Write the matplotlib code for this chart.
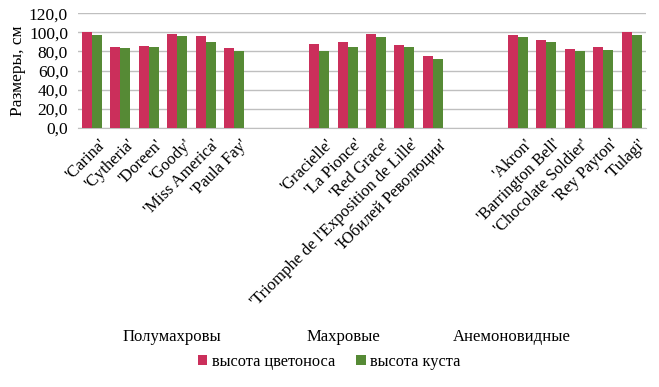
import matplotlib.pyplot as plt
import matplotlib.transforms as mtransforms
import numpy as np

plt.rcParams['font.family'] = ['Liberation Serif', 'DejaVu Serif']

# Полумахровые, махровые, анемоновидные сорта
semi_names = ["'Carina'", "'Cytheria'", "'Doreen'", "'Goody'", "'Miss America'", "'Paula Fay'"]
semi_peduncle = [100.0, 84.6, 85.3, 98.6, 96.0, 83.2]
semi_bush = [97.2, 83.2, 84.6, 96.0, 90.0, 80.4]

double_names = ["'Gracielle'", "'La Pionce'", "'Red Grace'",
                "'Triomphe de l'Exposition de Lille'", "'Юбилей Революции'"]
double_peduncle = [88.0, 89.5, 98.3, 86.7, 75.2]
double_bush = [80.0, 85.0, 95.5, 85.0, 72.4]

anem_names = ["'Akron'", "'Barrington Bell'", "'Chocolate Soldier'", "'Rey Payton'", "'Tulagi'"]
anem_peduncle = [97.2, 92.0, 82.2, 85.0, 100.3]
anem_bush = [95.1, 89.9, 80.0, 81.5, 96.9]

group_titles = ['Полумахровы', 'Махровые', 'Анемоновидные']

gap = 2
labels = semi_names + [''] * gap + double_names + [''] * gap + anem_names
peduncle = semi_peduncle + [np.nan] * gap + double_peduncle + [np.nan] * gap + anem_peduncle
bush = semi_bush + [np.nan] * gap + double_bush + [np.nan] * gap + anem_bush

x = np.arange(len(labels))
w = 0.35

fig = plt.figure(figsize=(6.59, 3.87), dpi=100)
ax = fig.add_axes([0.118, 0.669, 0.862, 0.297])

ax.bar(x - w/2, peduncle, w, color='#CB2F5B', label='высота цветоноса', zorder=3)
ax.bar(x + w/2, bush, w, color='#568A35', label='высота куста', zorder=3)

ax.set_xlim(-0.5, len(labels) - 0.5)
ax.set_ylim(0, 120)
yt = np.arange(0, 121, 20)
ax.set_yticks(yt)
ax.set_yticklabels([('%.1f' % v).replace('.', ',') for v in yt], fontsize=12.5)
ax.grid(axis='y', color='#BFBFBF', linewidth=1, zorder=0)
for s in ['top', 'right', 'left']:
    ax.spines[s].set_visible(False)
ax.spines['bottom'].set_color('#BFBFBF')
ax.tick_params(axis='y', length=0, pad=7)
ax.tick_params(axis='x', length=0, pad=3)
ax.set_ylabel('Размеры, см', fontsize=12.5, labelpad=2)

ax.set_xticks(x)
ax.set_xticklabels(labels, rotation=45, ha='right', rotation_mode='anchor', fontsize=12)
shift = mtransforms.ScaledTranslation(6/100, -4/100, fig.dpi_scale_trans)
for lab in ax.get_xticklabels():
    lab.set_transform(lab.get_transform() + shift)

# подписи групп
title_x = [172, 343, 512]
for px, t in zip(title_x, group_titles):
    fig.text(px / 659, 1 - 337/387, t, ha='center', va='center', fontsize=12)

fig.legend(loc='center', bbox_to_anchor=(329/659, 1 - 362/387), ncol=2, frameon=False,
           fontsize=11.8, handlelength=0.6, handleheight=0.6, handletextpad=0.25,
           columnspacing=1.3)

fig.savefig('out.png', dpi=100)
